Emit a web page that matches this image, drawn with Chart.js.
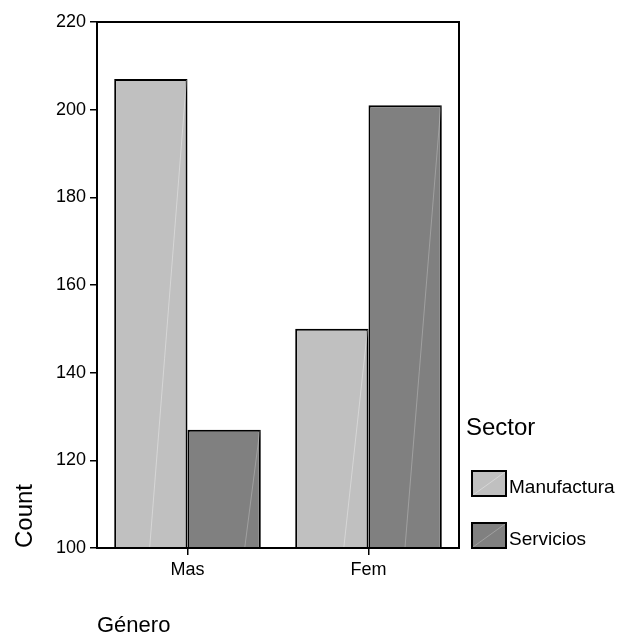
<!DOCTYPE html>
<html><head><meta charset="utf-8">
<script src="https://cdn.jsdelivr.net/npm/chart.js@4/dist/chart.umd.min.js"></script>
<style>html,body{margin:0;padding:0;background:#fff}#wrap{width:618px;height:636px}</style>
</head><body><div id="wrap"><canvas id="c" width="618" height="636"></canvas></div>
<script>
const categories = ["Mas", "Fem"];
const manufactura = [207, 150];
const servicios = [127, 201];
const seriesNames = ["Manufactura", "Servicios"];
const seriesColors = ["#c0c0c0", "#808080"];
const yTicks = [100, 120, 140, 160, 180, 200, 220];
const legendTitle = "Sector";
const xTitle = "Género";
const yTitle = "Count";

const FONT = "'Liberation Sans', Arial, sans-serif";

const extras = {
  id: 'extras',
  afterDatasetsDraw(chart) {
    const ctx = chart.ctx;
    const a = chart.chartArea;
    ctx.save();
    // faint diagonal lines on bars
    chart.data.datasets.forEach((ds, di) => {
      const meta = chart.getDatasetMeta(di);
      meta.data.forEach(bar => {
        const p = bar.getProps(['x','y','base','width'], true);
        const l = p.x - p.width/2, r = p.x + p.width/2;
        ctx.strokeStyle = di === 0 ? 'rgba(255,255,255,0.35)' : 'rgba(255,255,255,0.25)';
        ctx.lineWidth = 1;
        ctx.beginPath();
        ctx.moveTo(l + 1, p.base - 1);
        ctx.lineTo(r - 1, p.y + 1);
        ctx.stroke();
      });
    });
    // frame
    ctx.strokeStyle = '#000';
    ctx.lineWidth = 2;
    ctx.strokeRect(a.left, a.top, a.right - a.left, a.bottom - a.top);
    // legend
    ctx.fillStyle = '#000';
    ctx.textBaseline = 'alphabetic';
    ctx.textAlign = 'left';
    ctx.font = "24px " + FONT;
    ctx.fillText(legendTitle, 466, 435);
    seriesNames.forEach((name, i) => {
      const bx = 472, by = 471 + i * 52, bw = 34, bh = 25;
      ctx.fillStyle = seriesColors[i];
      ctx.fillRect(bx, by, bw, bh);
      ctx.strokeStyle = i === 0 ? 'rgba(255,255,255,0.35)' : 'rgba(255,255,255,0.25)';
      ctx.lineWidth = 1;
      ctx.beginPath(); ctx.moveTo(bx + 1, by + bh - 1); ctx.lineTo(bx + bw - 1, by + 1); ctx.stroke();
      ctx.strokeStyle = '#000';
      ctx.lineWidth = 2;
      ctx.strokeRect(bx, by, bw, bh);
      ctx.fillStyle = '#000';
      ctx.font = "19px " + FONT;
      ctx.fillText(name, 509, by + 22);
    });
    // axis titles
    ctx.font = "22px " + FONT;
    ctx.fillText(xTitle, 97, 632);
    ctx.save();
    ctx.translate(32, a.bottom);
    ctx.rotate(-Math.PI/2);
    ctx.font = "24px " + FONT;
    ctx.fillText(yTitle, 0, 0);
    ctx.restore();
    ctx.restore();
  }
};

new Chart(document.getElementById('c'), {
  type: 'bar',
  data: {
    labels: categories,
    datasets: [
      { label: seriesNames[0], data: manufactura, backgroundColor: seriesColors[0], borderColor: '#000', borderWidth: 2, borderSkipped: 'bottom' },
      { label: seriesNames[1], data: servicios, backgroundColor: seriesColors[1], borderColor: '#000', borderWidth: 2, borderSkipped: 'bottom' }
    ]
  },
  options: {
    responsive: false,
    animation: false,
    devicePixelRatio: 1,
    layout: { padding: { left: 0, right: 159, top: 22, bottom: 0 } },
    datasets: { bar: { categoryPercentage: 0.81, barPercentage: 1.0 } },
    plugins: { legend: { display: false }, tooltip: { enabled: false }, title: { display: false } },
    scales: {
      x: {
        offset: true,
        grid: { display: true, drawOnChartArea: false, drawTicks: true, tickLength: 7, color: '#000', offset: false, lineWidth: 1.5 },
        border: { display: true, color: '#000', width: 2 },
        ticks: { color: '#000', font: { family: FONT, size: 18 }, padding: 4 },
        afterFit(s) { s.height = 88; }
      },
      y: {
        min: 100, max: 220,
        afterBuildTicks(s) { s.ticks = yTicks.map(v => ({ value: v })); },
        grid: { display: true, drawOnChartArea: false, drawTicks: true, tickLength: 7, color: '#000', lineWidth: 1.5 },
        border: { display: true, color: '#000', width: 2 },
        ticks: { color: '#000', font: { family: FONT, size: 18 }, padding: 4 },
        afterFit(s) { s.width = 97; }
      }
    }
  },
  plugins: [extras]
});
</script></body></html>
